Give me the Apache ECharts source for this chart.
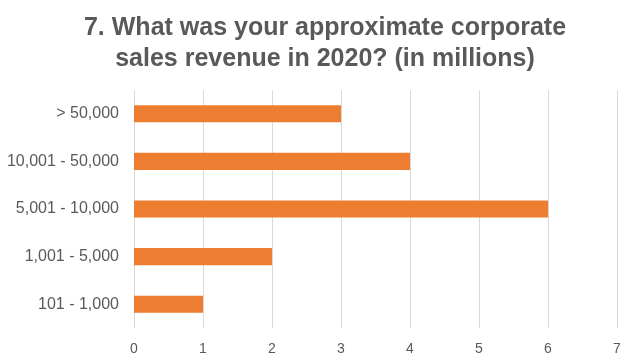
<!DOCTYPE html>
<html><head><meta charset="utf-8">
<script src="https://cdn.jsdelivr.net/npm/echarts@6/dist/echarts.min.js"></script>
<style>html,body{margin:0;padding:0;background:#fff}#c{width:631px;height:364px}</style>
</head><body><div id="c"></div>
<script>
const categories = ["101 - 1,000", "1,001 - 5,000", "5,001 - 10,000", "10,001 - 50,000", "> 50,000"];
const values = [1, 2, 6, 4, 3];
const xTicks = [0, 1, 2, 3, 4, 5, 6, 7];
const titleText = "7. What was your approximate corporate\nsales revenue in 2020? (in millions)";

const chart = echarts.init(document.getElementById('c'), null, {renderer: 'canvas'});
chart.setOption({
  animation: false,
  backgroundColor: '#ffffff',
  title: {
    text: titleText, left: 320, top: 8, textAlign: 'center',
    textStyle: {fontFamily: 'Liberation Sans, Arial, sans-serif', fontSize: 25, fontWeight: 'bold', color: '#595959', lineHeight: 31}
  },
  grid: {left: 134, right: 14, top: 90, bottom: 36, containLabel: false},
  xAxis: {
    type: 'value', min: xTicks[0], max: xTicks[xTicks.length - 1], interval: 1,
    axisLine: {show: false}, axisTick: {show: false},
    splitLine: {lineStyle: {color: '#d9d9d9', width: 1}},
    axisLabel: {color: '#595959', fontFamily: 'Liberation Sans, Arial, sans-serif', fontSize: 14, margin: 14}
  },
  yAxis: {
    type: 'category', data: categories,
    axisLine: {show: false}, axisTick: {show: false},
    axisLabel: {color: '#595959', fontFamily: 'Liberation Sans, Arial, sans-serif', fontSize: 16, margin: 15}
  },
  series: [{
    type: 'bar', data: values, barWidth: '36%',
    itemStyle: {color: '#ED7D31'}
  }]
});
</script></body></html>
